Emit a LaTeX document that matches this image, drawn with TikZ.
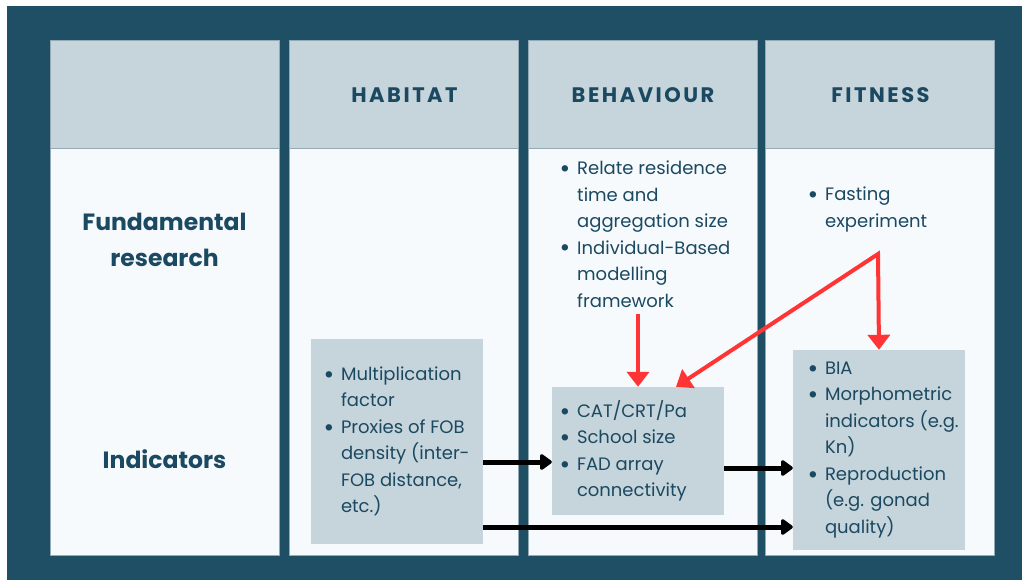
\documentclass[tikz,border=0pt]{standalone}
\usepackage{fontspec}
\setmainfont{Poppins}
\usetikzlibrary{arrows.meta,calc,positioning}
\definecolor{frame}{HTML}{1F4F64}
\definecolor{headfill}{HTML}{C6D4DB}
\definecolor{bodyfill}{HTML}{F6FAFD}
\definecolor{edge}{HTML}{93AAB6}
\definecolor{ink}{HTML}{1B4961}
\definecolor{linkred}{HTML}{FF3535}
\tikzset{
  redtip/.tip={Triangle[length=15pt,width=22pt]},
  blacktip/.tip={Triangle[round,length=13pt,width=18pt]},
  col head/.style={font=\bfseries\fontsize{21}{24}\selectfont\addfontfeature{LetterSpace=12},text=ink},
  row label/.style={font=\bfseries\fontsize{23.5}{36}\selectfont,text=ink,align=center},
  item list/.style={font=\fontsize{18}{26.5}\selectfont,text=ink,align=left,inner sep=0pt},
  indicator box/.style={rectangle,fill=headfill,inner sep=0pt},
  red link/.style={line width=4pt,draw=linkred},
  black link/.style={-blacktip,line width=5pt,draw=black}
}
\newcommand\bul{\makebox[13pt][l]{\hspace*{-4.5pt}\raisebox{-2.6pt}{\fontsize{26}{26}\selectfont\textbullet}}}
\newcommand\hang{\hspace*{13pt}}

\begin{document}
\begin{tikzpicture}[x=1pt,y=-1pt]
  \useasboundingbox (0,0) rectangle (1022,580);
  \fill[frame] (7,6) rectangle (1022,580);

  % columns
  \foreach \cx in {50,289,528,765}{
    \filldraw[headfill,draw=edge,line width=.6pt] (\cx,40) rectangle ++(229,108);
    \filldraw[bodyfill,draw=edge,line width=.6pt] (\cx,148) rectangle ++(229,407);
  }

  \node[col head] (habitat) at (404.5,95) {HABITAT};
  \node[col head] (behaviour) at (643,95) {BEHAVIOUR};
  \node[col head] (fitness) at (880.5,95) {FITNESS};

  \node[row label] (fundamental) at (164.5,240) {Fundamental\\research};
  \node[row label] (indicators) at (164.5,459) {Indicators};

  % fundamental research
  \node[item list,anchor=north west] (behfund) at (564,161)
    {\bul Relate residence\\\hang time and\\\hang aggregation size\\
     \bul Individual-Based\\\hang modelling\\\hang framework};
  \node[item list,anchor=north west] (fitfund) at (812,187)
    {\bul Fasting\\\hang experiment};

  % indicators
  \node[indicator box,minimum width=172,minimum height=205] (habbox) at (397,441.5) {};
  \node[item list,anchor=west] (habtext) at ([xshift=17]habbox.west)
    {\bul Multiplication\\\hang factor\\\bul Proxies of FOB\\
     \hang density (inter-\\\hang FOB distance,\\\hang etc.)};
  \node[indicator box,minimum width=172,minimum height=128] (behbox) at (638,451) {};
  \node[item list,anchor=west] (behtext) at ([xshift=12]behbox.west)
    {\bul CAT/CRT/Pa\\\bul School size\\\bul FAD array\\\hang connectivity};
  \node[indicator box,minimum width=172,minimum height=200] (fitbox) at (879,450) {};
  \node[item list,anchor=west] (fittext) at ([xshift=19]fitbox.west)
    {\bul BIA\\\bul Morphometric\\\hang indicators (e.g.\\\hang Kn)\\
     \bul Reproduction\\\hang (e.g. gonad\\\hang quality)};

  % links
  \coordinate (fork) at (878,254);
  \draw[red link,-redtip] ($(behbox.north |- behfund.south)+(0,6)$) -- (behbox.north);
  \draw[red link,redtip-redtip] ($(behbox.north)+(38,0)$) -- (fork) -- (fitbox.north);
  \draw[black link] ($(habbox.east)+(0,20.5)$) -- ($(behbox.west)+(0,11)$);
  \draw[black link] ($(behbox.east)+(0,17)$) -- ($(fitbox.west)+(0,18)$);
  \draw[black link] ($(habbox.east)+(0,85.5)$) -- ($(fitbox.west)+(0,77)$);
\end{tikzpicture}
\end{document}
